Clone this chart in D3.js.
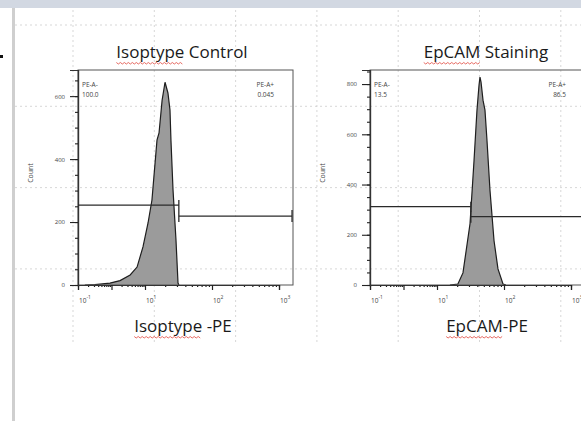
<!DOCTYPE html>
<html>
<head>
<meta charset="utf-8">
<script src="https://cdn.jsdelivr.net/npm/d3@7"></script>
<style>
  body { margin: 0; background: #fff; }
  svg { display: block; font-family: "Open Sans", "Liberation Sans", sans-serif; }
</style>
</head>
<body>
<div id="chart"></div>
<script>
// ---------------------------
// DATA
// ---------------------------

// isotype control histogram: PE intensity vs event count
const isoIntensity = [0.16, 0.32, 0.9, 1.8, 3.6, 5.8, 8.7, 11.1, 12.7, 15.1, 16.2, 18.0, 19.9, 22.0, 23.6, 24.4, 26.2, 29.0, 31.1, 32.1];
const isoCount     = [0,    1,    6,   14,  32,  57,  121, 197,  270,  460,  483,  587,  644,  610,  556,  460,  302,  143,  6,    0];

// EpCAM stained histogram
const epIntensity = [15.6, 20.5, 24.4, 31.1, 35.7, 39.5, 42.4, 43.8, 45.4, 48.6, 52.0, 55.7, 61.8, 71.0, 81.3, 96.6, 107];
const epCount     = [0,    4,    48,   244,  496,  696,  796,  828,  808,  736,  696,  576,  376,  176,  64,   4,    0];

const panelTitles = ["Isoptype Control", "EpCAM Staining"];
const panelXLabels = ["Isoptype -PE", "EpCAM-PE"];
const spellWords = ["Isoptype", "EpCAM"];
const yMaxCounts = [683, 856];
const yTickLabels = [[0, 200, 400, 600], [0, 200, 400, 600, 800]];

// gates: boundary intensity, bar heights (counts) and frequencies
const gateSplit = 32;
const gateNegLevel = [254, 312];
const gatePosLevel = [219, 272];
const gateNegText = [["PE-A-", "100.0"], ["PE-A-", "13.5"]];
const gatePosText = [["PE-A+", "0.045"], ["PE-A+", "86.5"]];

// x axis: decade positions (compressed low end) and labelled decades
const xDecades = [0.1, 10, 100, 1000];
const xMajor = [0.1, 1, 10, 100, 1000];
const xLabelExp = ["-1", "1", "2", "3"];
const xLabelAt = [0.1, 10, 100, 1000];
const xMax = 1620;

// ---------------------------
// LAYOUT
// ---------------------------
const width = 581, height = 421;
const svg = d3.select("#chart").append("svg")
  .attr("width", width).attr("height", height);

// document chrome: top band, left rule, bullet
svg.append("rect").attr("x", 0).attr("y", 0).attr("width", width).attr("height", 8).attr("fill", "#d2d8e2");
svg.append("rect").attr("x", 12).attr("y", 8).attr("width", 3).attr("height", height - 8).attr("fill", "#cfcfcf");
svg.append("rect").attr("x", 0).attr("y", 55).attr("width", 3).attr("height", 3).attr("fill", "#111");

// word grid behind the picture
const grid = svg.append("g").attr("stroke", "#cdcdcd").attr("stroke-width", 0.8).attr("stroke-dasharray", "2,3");
d3.range(73, width, 81.3).forEach(x => {
  grid.append("line").attr("x1", x).attr("x2", x).attr("y1", 10).attr("y2", 342);
});
d3.range(25, 342, 81.3).forEach(y => {
  grid.append("line").attr("x1", 15).attr("x2", width).attr("y1", y).attr("y2", y);
});

const panels = [
  { left: 78, intensity: isoIntensity, count: isoCount, titleX: 182, labelX: 183 },
  { left: 370, intensity: epIntensity, count: epCount, titleX: 486, labelX: 487 }
];
const plotTop = 70, plotBottom = 285, plotW = 215;

function squiggle(g, x0, x1, y) {
  const pts = d3.range(x0, x1, 2).map((x, i) => [x, y + (i % 2 ? 1 : -0.5)]);
  g.append("path").attr("d", d3.line()(pts))
    .attr("fill", "none").attr("stroke", "#e0463c").attr("stroke-width", 0.8);
}

function labelWithSpell(g, text, word, cx, y) {
  const t = g.append("text").attr("x", cx).attr("y", y)
    .attr("text-anchor", "middle").attr("font-size", "17px").attr("fill", "#1a1a1a")
    .text(text);
  const total = t.node().getComputedTextLength();
  const wordW = t.node().getSubStringLength(0, word.length);
  const start = cx - total / 2;
  squiggle(g, start, start + wordW, y + 5);
}

panels.forEach((p, i) => {
  const g = svg.append("g");

  const x = d3.scaleLog()
    .domain(xDecades)
    .range(xDecades.map((d, k) => p.left + k * 67));
  const y = d3.scaleLinear()
    .domain([0, yMaxCounts[i]])
    .range([plotBottom, plotTop]);

  // histogram
  const pts = p.intensity.map((v, k) => [v, p.count[k]]);
  const area = d3.area().x(d => x(d[0])).y0(plotBottom).y1(d => y(d[1]));
  const line = d3.line().x(d => x(d[0])).y(d => y(d[1]));
  g.append("path").datum(pts).attr("d", area).attr("fill", "#9b9b9b");
  g.append("path").datum(pts).attr("d", line)
    .attr("fill", "none").attr("stroke", "#1e1e1e").attr("stroke-width", 1.2);

  // plot frame
  g.append("rect").attr("x", p.left).attr("y", plotTop)
    .attr("width", plotW).attr("height", plotBottom - plotTop)
    .attr("fill", "none").attr("stroke", "#555").attr("stroke-width", 1);

  // x axis: minor + major ticks
  const minor = [];
  d3.range(-1, 4).forEach(e => {
    d3.range(1, 10).forEach(k => {
      const v = k * Math.pow(10, e);
      if (v >= 0.1 && v <= xMax && !xMajor.includes(v)) minor.push(v);
    });
  });
  const xMinorAxis = d3.axisBottom(x).tickValues(minor).tickSize(2).tickFormat("");
  const xMajorAxis = d3.axisBottom(x).tickValues(xMajor).tickSize(5).tickFormat("");
  [xMinorAxis, xMajorAxis].forEach(ax => {
    const a = g.append("g").attr("transform", `translate(0,${plotBottom})`).call(ax);
    a.select(".domain").attr("stroke", "#333").attr("stroke-width", 1.2);
    a.selectAll(".tick line").attr("stroke", "#222").attr("stroke-width", 1.2);
  });
  xLabelAt.forEach((v, k) => {
    const t = g.append("text").attr("x", x(v) + 1).attr("y", plotBottom + 18)
      .attr("font-size", "6.5px").attr("fill", "#444");
    t.append("tspan").text("10");
    t.append("tspan").attr("dy", -4).attr("font-size", "5px").text(xLabelExp[k]);
  });

  // y axis
  const yMinorAxis = d3.axisLeft(y).tickValues(d3.range(0, yMaxCounts[i], 50)).tickSize(3).tickFormat("");
  const yMajorAxis = d3.axisLeft(y).tickValues(yTickLabels[i]).tickSize(8).tickPadding(5).tickFormat(d3.format("d"));
  [yMinorAxis, yMajorAxis].forEach(ax => {
    const a = g.append("g").attr("transform", `translate(${p.left},0)`).call(ax);
    a.select(".domain").attr("stroke", "#333").attr("stroke-width", 1.2);
    a.selectAll(".tick line").attr("stroke", "#222").attr("stroke-width", 1.1);
    a.selectAll(".tick text").attr("font-size", "6px").attr("fill", "#444")
      .attr("font-family", "'Open Sans', sans-serif");
  });

  g.append("text")
    .attr("transform", `translate(${p.left - 45},173) rotate(-90)`)
    .attr("text-anchor", "middle").attr("font-size", "7px").attr("fill", "#444")
    .text("Count");

  // gates
  const gate = g.append("g").attr("stroke", "#2a2a2a").attr("stroke-width", 1.3);
  const xs = x(gateSplit), xl = x(0.1), xr = x(xMax) - 1;
  const yn = y(gateNegLevel[i]), yp = y(gatePosLevel[i]);
  gate.append("line").attr("x1", xl).attr("x2", xs).attr("y1", yn).attr("y2", yn);
  gate.append("line").attr("x1", xs).attr("x2", xs).attr("y1", yn - 5).attr("y2", yn + 5);
  gate.append("line").attr("x1", xs).attr("x2", xr).attr("y1", yp).attr("y2", yp);
  gate.append("line").attr("x1", xs).attr("x2", xs).attr("y1", yp - 6).attr("y2", yp + 6);
  gate.append("line").attr("x1", xr).attr("x2", xr).attr("y1", yp - 6).attr("y2", yp + 6);

  gateNegText[i].forEach((s, k) => {
    g.append("text").attr("x", p.left + 4).attr("y", 87 + k * 10)
      .attr("font-size", "6.5px").attr("fill", "#444").text(s);
  });
  gatePosText[i].forEach((s, k) => {
    g.append("text").attr("x", p.left + plotW - 19).attr("y", 87 + k * 10)
      .attr("text-anchor", "end").attr("font-size", "6.5px").attr("fill", "#444").text(s);
  });

  // titles
  labelWithSpell(g, panelTitles[i], spellWords[i], p.titleX, 58);
  labelWithSpell(g, panelXLabels[i], spellWords[i], p.labelX, 332);
});
</script>
</body>
</html>
